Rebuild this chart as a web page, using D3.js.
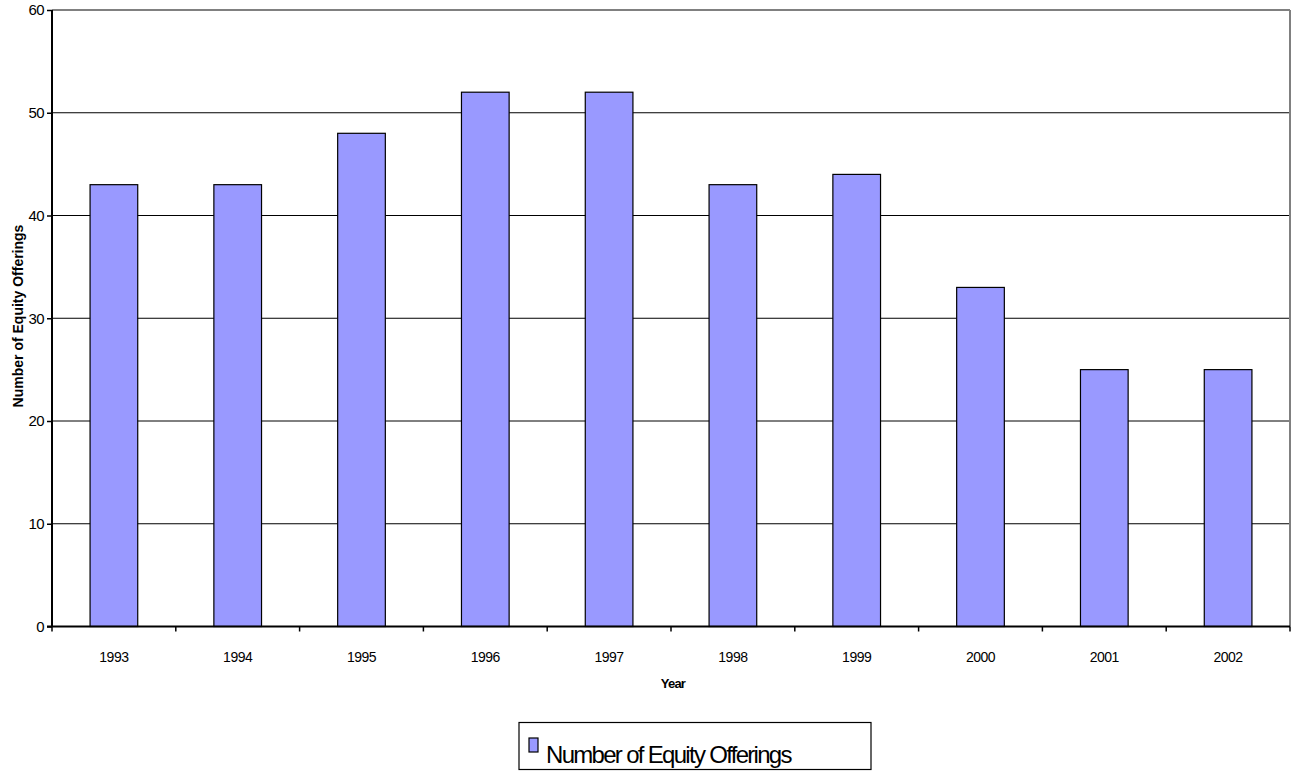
<!DOCTYPE html>
<html>
<head>
<meta charset="utf-8">
<script src="https://cdn.jsdelivr.net/npm/d3@7"></script>
<style>
  html, body { margin: 0; padding: 0; background: #fff; }
  svg { display: block; font-family: "Liberation Sans", Arial, sans-serif; }
</style>
</head>
<body>
<svg id="chart" width="1298" height="774"></svg>
<script>
// Number of equity offerings per year
const years = ["1993", "1994", "1995", "1996", "1997", "1998", "1999", "2000", "2001", "2002"];
const offerings = [43, 43, 48, 52, 52, 43, 44, 33, 25, 25];
const yTicks = [0, 10, 20, 30, 40, 50, 60];
const seriesName = "Number of Equity Offerings";
const xTitle = "Year";
const yTitle = "Number of Equity Offerings";

const svg = d3.select("#chart");
const plot = { left: 52, right: 1290, top: 10, bottom: 626.5 };

const x = d3.scaleBand().domain(years).range([plot.left, plot.right]).paddingInner(0.615).paddingOuter(0.3075);
const xCat = d3.scaleBand().domain(years).range([plot.left, plot.right]);
const y = d3.scaleLinear().domain([0, 60]).range([plot.bottom, plot.top]);

// Horizontal gridlines
svg.append("g").selectAll("line").data(yTicks.filter(d => d > 0 && d < 60)).join("line")
  .attr("x1", plot.left).attr("x2", plot.right)
  .attr("y1", d => y(d)).attr("y2", d => y(d))
  .attr("stroke", "#000").attr("stroke-width", 1);

// Top and right frame
svg.append("line").attr("x1", plot.left).attr("x2", plot.right)
  .attr("y1", y(60)).attr("y2", y(60)).attr("stroke", "#808080").attr("stroke-width", 2);
svg.append("line").attr("x1", plot.right).attr("x2", plot.right)
  .attr("y1", y(60)).attr("y2", plot.bottom).attr("stroke", "#808080").attr("stroke-width", 2);

// Bars
svg.append("g").selectAll("rect").data(years).join("rect")
  .attr("x", (d) => x(d))
  .attr("width", x.bandwidth())
  .attr("y", (d, i) => y(offerings[i]))
  .attr("height", (d, i) => y(0) - y(offerings[i]))
  .attr("fill", "#9999FF")
  .attr("stroke", "#000").attr("stroke-width", 1.2);

// Y axis
const yAxis = d3.axisLeft(y).tickValues(yTicks).tickSize(5).tickPadding(3).tickFormat(d3.format("d"));
const gy = svg.append("g").attr("transform", `translate(${plot.left},0)`).call(yAxis);
gy.select(".domain").attr("stroke", "#000").attr("stroke-width", 2).attr("d", `M0,${plot.top}V${plot.bottom}`);
gy.selectAll(".tick line").attr("stroke", "#000").attr("stroke-width", 1.5);
gy.selectAll(".tick text").attr("font-size", 15).attr("fill", "#000")
  .attr("font-family", "Liberation Sans, Arial, sans-serif").style("letter-spacing", "-0.6px");

// X axis with ticks at category boundaries
const gx = svg.append("g").attr("transform", `translate(0,${plot.bottom})`);
gx.append("line").attr("x1", plot.left - 5).attr("x2", plot.right)
  .attr("stroke", "#000").attr("stroke-width", 2);
const bounds = years.map(d => xCat(d)).concat([plot.right]);
gx.selectAll("line.tk").data(bounds).join("line").attr("class", "tk")
  .attr("x1", d => d).attr("x2", d => d).attr("y1", 0).attr("y2", 5)
  .attr("stroke", "#000").attr("stroke-width", 1.5);
gx.selectAll("text").data(years).join("text")
  .attr("x", d => xCat(d) + xCat.bandwidth() / 2)
  .attr("y", 35)
  .attr("text-anchor", "middle")
  .attr("font-size", 14).style("letter-spacing", "-0.5px")
  .text(d => d);

// Axis titles
svg.append("text").attr("x", 673).attr("y", 688)
  .attr("text-anchor", "middle").attr("font-size", 13).attr("font-weight", "bold")
  .style("letter-spacing", "-0.8px").text(xTitle);
svg.append("text").attr("transform", `translate(23,${(222 + 410) / 2}) rotate(-90)`)
  .attr("text-anchor", "middle").attr("font-size", 14).attr("font-weight", "bold")
  .style("letter-spacing", "0px").text(yTitle);

// Legend
const lg = svg.append("g");
lg.append("rect").attr("x", 519).attr("y", 722.5).attr("width", 352).attr("height", 47)
  .attr("fill", "#fff").attr("stroke", "#000").attr("stroke-width", 1.2);
lg.append("rect").attr("x", 529).attr("y", 738).attr("width", 9).attr("height", 14)
  .attr("fill", "#9999FF").attr("stroke", "#000").attr("stroke-width", 1.2);
lg.append("text").attr("x", 546).attr("y", 763).attr("font-size", 24)
  .style("letter-spacing", "-1.7px").text(seriesName);
</script>
</body>
</html>
